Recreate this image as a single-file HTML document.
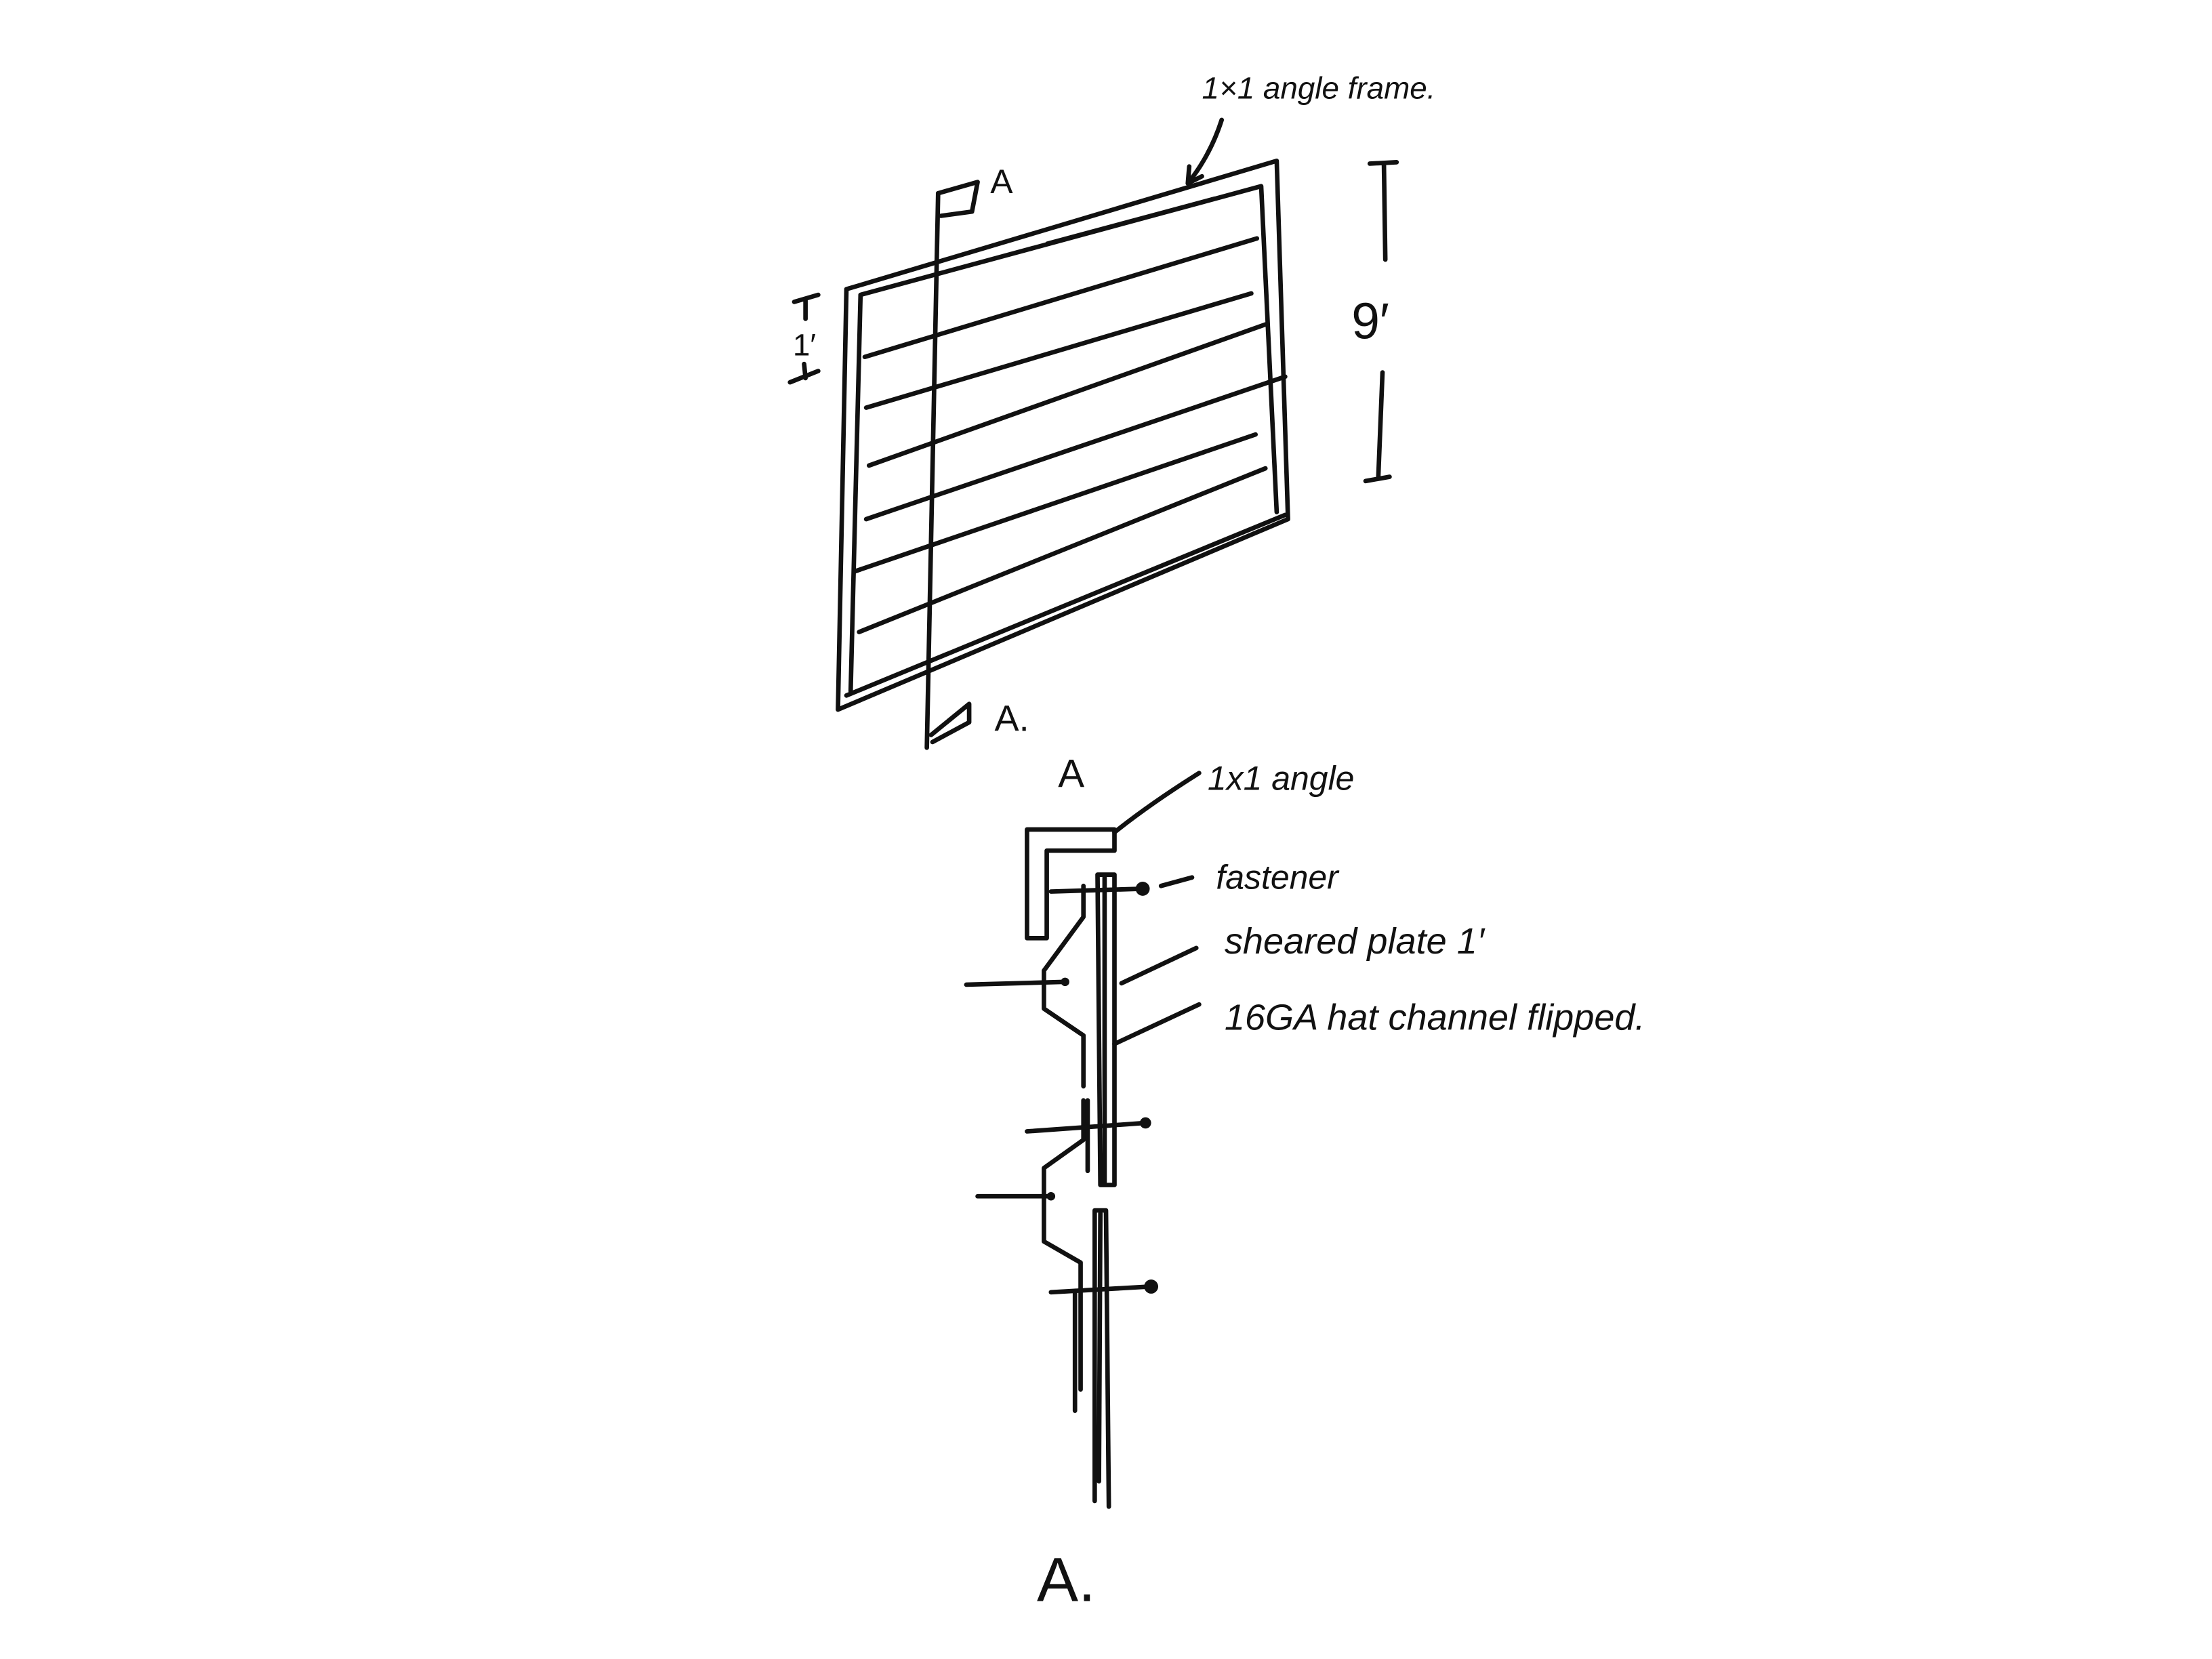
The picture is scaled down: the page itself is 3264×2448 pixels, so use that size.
<!DOCTYPE html>
<html><head><meta charset="utf-8"><style>
html,body{margin:0;padding:0;background:#fff;}
svg{display:block}
text{font-family:"Liberation Sans",sans-serif;fill:#111;}
</style></head><body>
<svg width="3264" height="2448" viewBox="0 0 1568 1176" xmlns="http://www.w3.org/2000/svg">
<g fill="none" stroke="#111" stroke-width="3.2" stroke-linecap="round" stroke-linejoin="round">
<!-- outer frame -->
<path d="M600,205 L905,114 L913,368 L594,503 Z"/>
<!-- inner frame -->
<path d="M610,209 L894,132 L905,363 M600,493 L911,365 M610,209 L603,490"/>
<path d="M742,172 L861,140" stroke-width="1.5"/>
<!-- slats -->
<path d="M613,253 L891,169"/>
<path d="M614,289 L887,208"/>
<path d="M616,330 L897,230"/>
<path d="M614,368 L911,267"/>
<path d="M606,405 L890,308"/>
<path d="M609,448 L897,332"/>
<!-- section line -->
<path d="M665,137 L657,530"/>
<path d="M665,137 L693,129 L689,150 L667,153"/>
<path d="M660,521 L687,499 L687,512 L661,526"/>
<!-- 9' dimension -->
<path d="M971,116 L990,115 M981,116 L982,184 M980,264 L977,339 M968,341 L985,338"/>
<!-- 1' dimension -->
<path d="M563,214 L580,209 M571,212 L571,226 M570,258 L571,268 M560,271 L580,263"/>
<!-- leader to frame -->
<path d="M866,85 Q858,110 842,130 M842,130 L852,125 M842,130 L843,118"/>
<!-- section A detail -->
<path d="M728,588 L790,588 L790,603 L742,603 L742,665 L728,665 Z"/>
<path d="M790,590 Q815,570 850,548"/>
<path d="M778,620 L790,620 L790,840 L780,840 Z M783,622 L783,838"/>
<path d="M776,858 L784,858 L786,1068 M776,858 L776,1064 M780,860 L779,1050"/>
<path d="M768,628 L768,650 L740,688 L740,715 L768,734 L768,770"/>
<path d="M768,780 L768,808 L740,828 L740,880 L766,895 L766,985"/>
<path d="M771,780 L771,830 M762,915 L762,1000"/>
<path d="M745,632 L810,630"/>
<path d="M728,802 L812,796"/>
<path d="M745,916 L815,912"/>
<path d="M685,698 L755,696"/>
<path d="M693,848 L745,848"/>
<path d="M823,628 L845,622 M795,697 L848,672 M790,740 L850,712"/>
</g>
<g fill="#111">
<circle cx="810" cy="630" r="5"/>
<circle cx="812" cy="796" r="4"/>
<circle cx="816" cy="912" r="5"/>
<circle cx="755" cy="696" r="3"/>
<circle cx="745" cy="848" r="3"/>
</g>
<text x="852" y="70" font-size="22" font-style="italic">1×1 angle frame.</text>
<text x="702" y="137" font-size="24">A</text>
<text x="705" y="518" font-size="26">A.</text>
<text x="958" y="240" font-size="36">9′</text>
<text x="562" y="252" font-size="22">1′</text>
<text x="750" y="558" font-size="28">A</text>
<text x="856" y="560" font-size="24" font-style="italic">1x1 angle</text>
<text x="862" y="630" font-size="24" font-style="italic">fastener</text>
<text x="868" y="676" font-size="26" font-style="italic">sheared plate 1′</text>
<text x="868" y="730" font-size="26" font-style="italic">16GA hat channel flipped.</text>
<text x="735" y="1135" font-size="44">A.</text>
</svg>
</body></html>
